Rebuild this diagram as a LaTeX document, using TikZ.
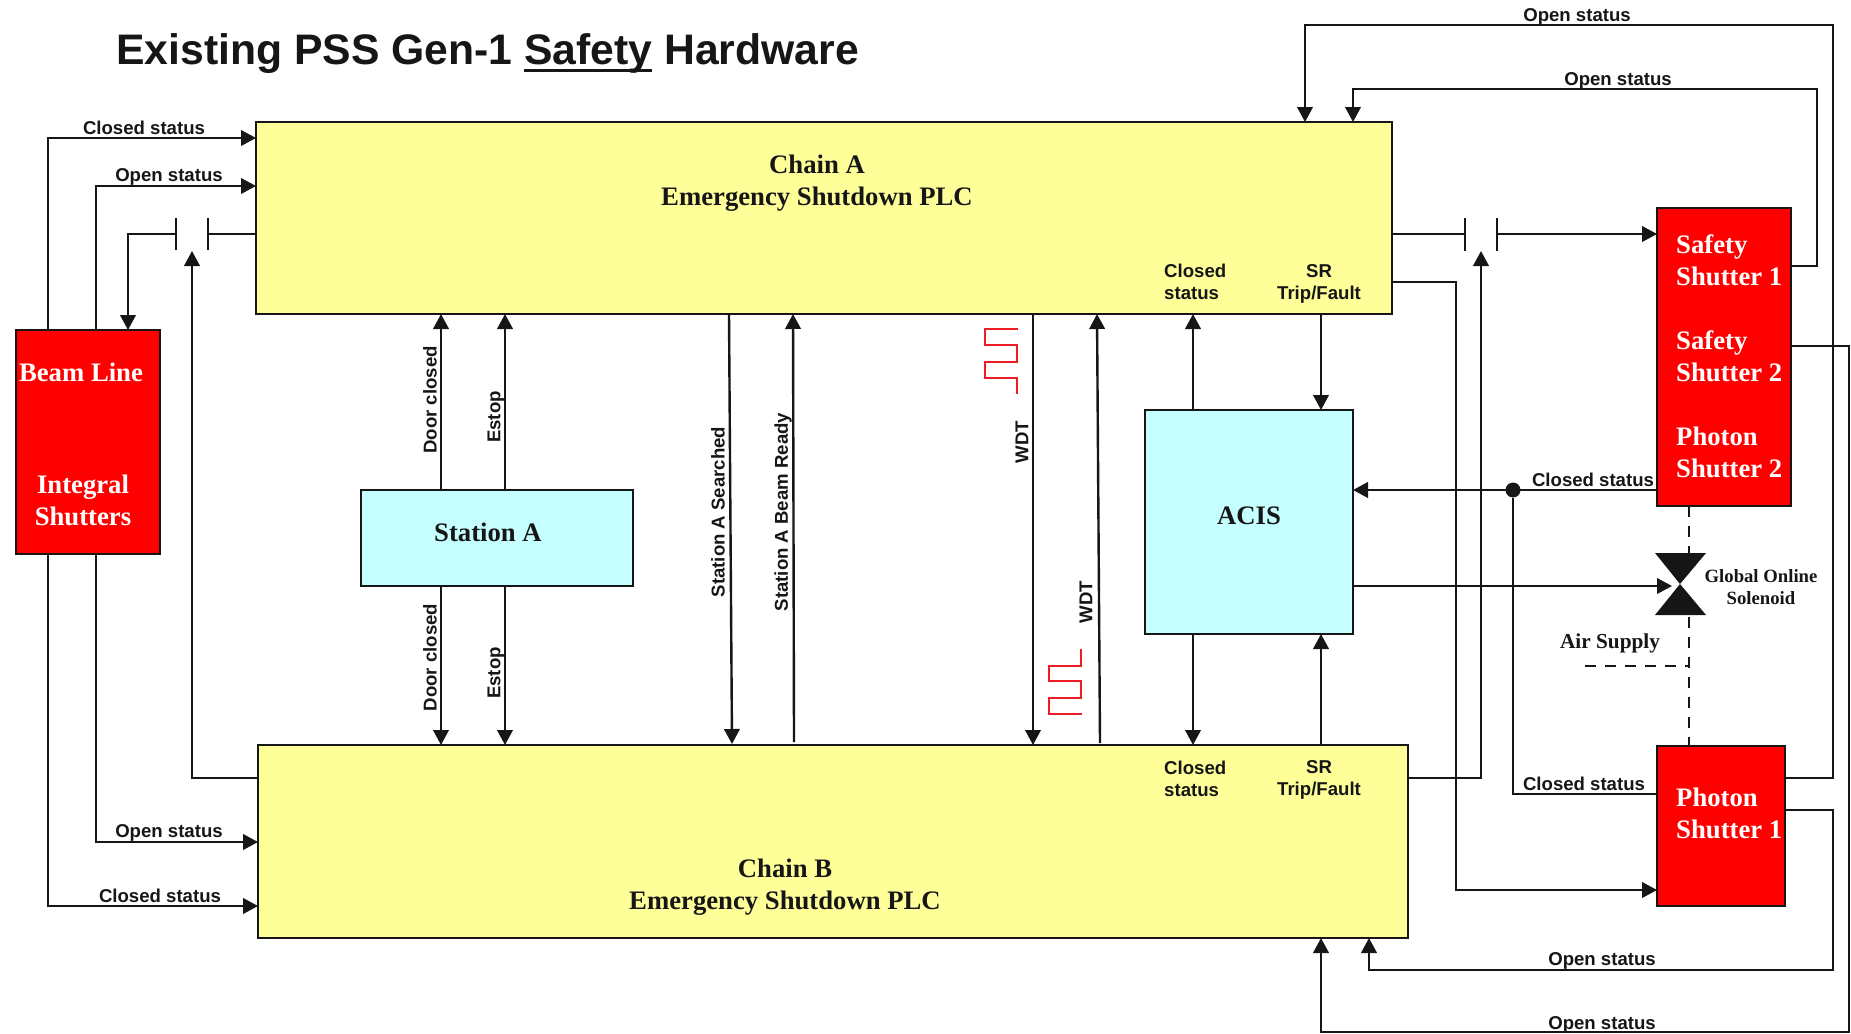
\documentclass[tikz,border=0pt]{standalone}
\usepackage{fontspec}
\setmainfont{Liberation Serif}
\setsansfont{Liberation Sans}
\usetikzlibrary{arrows.meta}
\definecolor{ink}{HTML}{161616}
\definecolor{plcyellow}{HTML}{FFFF99}
\definecolor{boxcyan}{HTML}{C6FFFF}
\definecolor{pulse}{HTML}{EE1C25}
\tikzset{
  boxbase/.style={draw=ink,line width=2.4pt,inner sep=0pt,outer sep=0pt},
  plc/.style={boxbase,fill=plcyellow},
  sta/.style={boxbase,fill=boxcyan},
  shut/.style={boxbase,fill=red},
  wire/.style={line width=2.4pt,draw=ink},
  arr/.style={wire,-{Triangle[length=15pt,width=15.5pt]}},
  sig/.style={font=\sffamily\bfseries\fontsize{18.6}{22}\selectfont,text=ink,inner sep=0pt},
  sigr/.style={sig,rotate=90},
  head/.style={font=\rmfamily\bfseries\fontsize{26.7}{32}\selectfont,text=ink,inner sep=0pt,align=center},
  whead/.style={font=\rmfamily\bfseries\fontsize{26.7}{32}\selectfont,text=white,inner sep=0pt},
  small/.style={font=\rmfamily\bfseries\fontsize{18.7}{22}\selectfont,text=ink,inner sep=0pt,align=center},
  dashline/.style={line width=2.4pt,draw=ink,dash pattern=on 11pt off 9pt},
  wave/.style={line width=2.2pt,draw=pulse}
}
\begin{document}
\begin{tikzpicture}[x=1pt,y=-1pt]
\useasboundingbox (0,0) rectangle (1851,1033);
% boxes
\node[plc,minimum width=1136pt,minimum height=192pt] (chainA) at (824,218) {};
\node[plc,minimum width=1150pt,minimum height=193pt] (chainB) at (833,841.5) {};
\node[shut,minimum width=144pt,minimum height=224pt] (beam) at (88,442) {};
\node[sta,minimum width=272pt,minimum height=96pt] (station) at (497,538) {};
\node[sta,minimum width=208pt,minimum height=224pt] (acis) at (1249,522) {};
\node[shut,minimum width=134pt,minimum height=298pt] (safety) at (1724,357) {};
\node[shut,minimum width=128pt,minimum height=160pt] (photon) at (1721,826) {};
% helper points
\coordinate (lc1) at (176,234);
\coordinate (lc2) at (208,234);
\coordinate (lctl) at (192,251);
\coordinate (rc1) at (1465,234);
\coordinate (rc2) at (1497,234);
\coordinate (rctl) at (1481,251);
\coordinate (sol) at (1680,584);
\coordinate (airend) at (1585,666);
\coordinate (airjoin) at (1689,666);
% beam line to chains
\draw[arr] (beam.north -| 48,0) -- (48,138) -- (chainA.west |- 0,138);
\draw[arr] (beam.north -| 96,0) -- (96,186) -- (chainA.west |- 0,186);
\draw[arr] (beam.south -| 48,0) -- (48,906) -- (chainB.west |- 0,906);
\draw[arr] (beam.south -| 96,0) -- (96,842) -- (chainB.west |- 0,842);
% left contact
\draw[wire] (chainA.west |- lc2) -- (lc2);
\draw[wire] (208,218) -- (208,250);
\draw[wire] (176,218) -- (176,250);
\draw[arr] (lc1) -- (128,234) -- (beam.north -| 128,0);
\draw[arr] (chainB.west |- 0,778) -- (192,778) -- (lctl);
% station
\draw[arr] (station.north -| 441,0) -- (chainA.south -| 441,0);
\draw[arr] (station.north -| 505,0) -- (chainA.south -| 505,0);
\draw[arr] (station.south -| 441,0) -- (chainB.north -| 441,0);
\draw[arr] (station.south -| 505,0) -- (chainB.north -| 505,0);
% middle links
\coordinate (srchA) at (chainA.south -| 729,0);
\coordinate (rdyA) at (chainA.south -| 793,0);
\coordinate (wdA) at (chainA.south -| 1033,0);
\coordinate (wdB) at (chainA.south -| 1097,0);
\draw[arr] (srchA) -- (732,744);
\draw[arr] (794,742) -- (rdyA);
\draw[arr] (wdA) -- (1033,745);
\draw[arr] (1100,743) -- (wdB);
% pulses
\draw[wave] (1018,329) -- (985,329) -- (985,345) -- (1017,345) -- (1017,362) -- (985,362) -- (985,378) -- (1017,378) -- (1017,394);
\draw[wave] (1081,649) -- (1081,666) -- (1049,666) -- (1049,681) -- (1081,681) -- (1081,698) -- (1049,698) -- (1049,714) -- (1082,714);
% ACIS links
\draw[arr] (acis.north -| 1193,0) -- (chainA.south -| 1193,0);
\draw[arr] (chainA.south -| 1321,0) -- (acis.north -| 1321,0);
\draw[arr] (acis.south -| 1193,0) -- (chainB.north -| 1193,0);
\draw[arr] (chainB.north -| 1321,0) -- (acis.south -| 1321,0);
% right contact
\draw[wire] (chainA.east |- rc1) -- (rc1);
\draw[wire] (1465,218) -- (1465,251);
\draw[wire] (1497,218) -- (1497,251);
\draw[arr] (rc2) -- (safety.west |- rc2);
\draw[arr] (chainB.east |- 0,778) -- (1481,778) -- (rctl);
% SR trip
\draw[arr] (chainA.east |- 0,282) -- (1456,282) -- (1456,890) -- (photon.west |- 0,890);
% open status lines
\draw[arr] (photon.east |- 0,778) -- (1833,778) -- (1833,25) -- (1305,25) -- (chainA.north -| 1305,0);
\draw[arr] (safety.east |- 0,266) -- (1817,266) -- (1817,89) -- (1353,89) -- (chainA.north -| 1353,0);
\draw[arr] (safety.east |- 0,346) -- (1849,346) -- (1849,1032) -- (1321,1032) -- (chainB.south -| 1321,0);
\draw[arr] (photon.east |- 0,810) -- (1833,810) -- (1833,970) -- (1369,970) -- (chainB.south -| 1369,0);
% closed status
\node[circle,fill=ink,minimum size=15pt,inner sep=0pt] (dot) at (1513,490) {};
\draw[arr] (safety.west |- 0,490) -- (acis.east |- 0,490);
\draw[wire] (dot) -- (1513,794) -- (photon.west |- 0,794);
% solenoid
\fill[ink] (1655,553) -- (1706,553) -- (sol) -- cycle;
\fill[ink] (1655,615) -- (1706,615) -- (sol) -- cycle;
\draw[arr] (acis.east |- 0,586) -- (1672,586);
\draw[dashline] (safety.south -| 1689,0) -- (1689,553);
\draw[dashline] (1689,617) -- (photon.north -| 1689,0);
\draw[dashline] (airend) -- (airjoin);
% title
\node[font=\sffamily\bfseries\fontsize{42.7}{50}\selectfont,text=ink,inner sep=0pt,anchor=base west] (title) at (116,64)
  {Existing PSS Gen-1 \setbox0\hbox{Safety}\rlap{\rule[-8pt]{\wd0}{3pt}}Safety Hardware};
% box texts
\node[head] (tA) at (817,183) {Chain A\\Emergency Shutdown PLC};
\node[head] (tB) at (785,887) {Chain B\\Emergency Shutdown PLC};
\node[head] (tS) at (488,532) {Station A};
\node[head] (tC) at (1249,516) {ACIS};
\node[whead] (tb1) at (81,372) {Beam Line};
\node[whead,align=center] (tb2) at (83,500) {Integral\\Shutters};
\node[whead,align=left,anchor=west] (ts1) at (1676,260) {Safety\\Shutter 1};
\node[whead,align=left,anchor=west] (ts2) at (1676,356) {Safety\\Shutter 2};
\node[whead,align=left,anchor=west] (ts3) at (1676,452.5) {Photon\\Shutter 2};
\node[whead,align=left,anchor=west] (ts4) at (1676,813) {Photon\\Shutter 1};
\node[small] (tsol) at (1761,587) {Global Online\\Solenoid};
\node[font=\rmfamily\bfseries\fontsize{21.3}{24}\selectfont,text=ink,inner sep=0pt] (tair) at (1610,643) {Air Supply};
% signal labels
\node[sig] (l1) at (144,128) {Closed status};
\node[sig] (l2) at (169,177) {Open status};
\node[sig] (l3) at (169,833) {Open status};
\node[sig] (l4) at (160,896) {Closed status};
\node[sig] (l5) at (1577,17) {Open status};
\node[sig] (l6) at (1618,81) {Open status};
\node[sig] (l7) at (1593,480) {Closed status};
\node[sig] (l8) at (1584,784) {Closed status};
\node[sig] (l9) at (1602,961) {Open status};
\node[sig] (l10) at (1602,1025) {Open status};
\node[sig,align=left,anchor=west] (l11) at (1164,282) {Closed\\status};
\node[sig,align=center] (l12) at (1319,284) {SR\\Trip/Fault};
\node[sig,align=left,anchor=west] (l13) at (1164,779) {Closed\\status};
\node[sig,align=center] (l14) at (1319,780) {SR\\Trip/Fault};
\node[sigr] (r1) at (430,400) {Door closed};
\node[sigr] (r2) at (496,417) {Estop};
\node[sigr] (r3) at (430,657.5) {Door closed};
\node[sigr] (r4) at (496,673) {Estop};
\node[sigr] (r5) at (718,512) {Station A Searched};
\node[sigr] (r6) at (783,512) {Station A Beam Ready};
\node[sigr] (r7) at (1022,442) {WDT};
\node[sigr] (r8) at (1086,602) {WDT};
\end{tikzpicture}
\end{document}
